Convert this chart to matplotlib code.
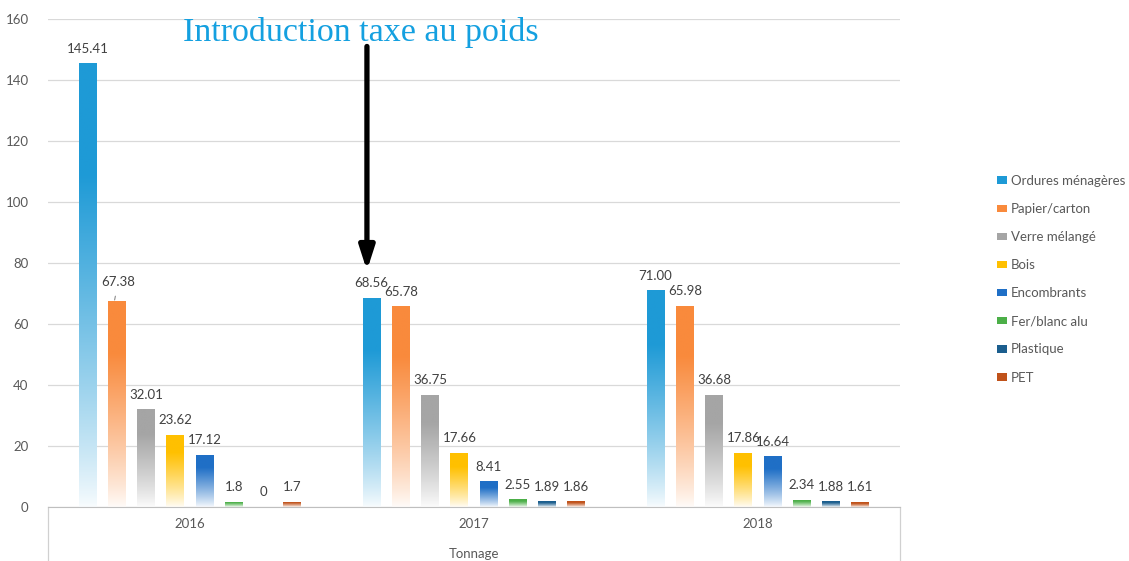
import numpy as np
import matplotlib.pyplot as plt
from matplotlib.patches import Patch

plt.rcParams['font.family'] = ['Lato', 'DejaVu Sans']

# DATA
years = ["2016", "2017", "2018"]
series = ["Ordures ménagères", "Papier/carton", "Verre mélangé", "Bois",
          "Encombrants", "Fer/blanc alu", "Plastique", "PET"]
v2016 = [145.41, 67.38, 32.01, 23.62, 17.12, 1.8, 0, 1.7]
v2017 = [68.56, 65.78, 36.75, 17.66, 8.41, 2.55, 1.89, 1.86]
v2018 = [71.00, 65.98, 36.68, 17.86, 16.64, 2.34, 1.88, 1.61]
l2016 = ["145.41", "67.38", "32.01", "23.62", "17.12", "1.8", "0", "1.7"]
l2017 = ["68.56", "65.78", "36.75", "17.66", "8.41", "2.55", "1.89", "1.86"]
l2018 = ["71.00", "65.98", "36.68", "17.86", "16.64", "2.34", "1.88", "1.61"]

colors = ["#1e9ad6", "#f98a3c", "#a5a5a5", "#ffc000",
          "#1f6fc6", "#4caf48", "#1b5e8e", "#c0521a"]

values = np.array([v2016, v2017, v2018])
labels = [l2016, l2017, l2018]

fig = plt.figure(figsize=(11.29, 5.61), dpi=100)
ax = fig.add_axes([48/1129, 54/561, 852/1129, 488/561])

x = np.arange(len(years))
pitch = 0.103
width = 0.063
txt_col = "#404040"


def gradient_img(c):
    rgb = np.array(plt.matplotlib.colors.to_rgb(c))
    t = np.linspace(0, 1, 200)[:, None]
    f = np.clip(t / 0.75, 0, 1) ** 0.85
    f = 0.03 + 0.97 * f
    img = 1 - f * (1 - rgb[None, :])
    return img[:, None, :]


for j, name in enumerate(series):
    xs = x + (j - 3.5) * pitch
    bars = ax.bar(xs, values[:, j], width, color="none", edgecolor="none", zorder=2)
    for b in bars:
        h = b.get_height()
        if h <= 0:
            continue
        x0 = b.get_x()
        im = ax.imshow(gradient_img(colors[j]), origin="lower", aspect="auto",
                       extent=[x0, x0 + b.get_width(), 0, h], zorder=2,
                       interpolation="bilinear")
        im.set_clip_path(b)
    for i, b in enumerate(bars):
        xc = b.get_x() + b.get_width() / 2
        h = b.get_height()
        if i == 0 and j == 1:
            # label pulled up with a leader line
            ax.annotate(labels[i][j], xy=(xc - 0.008, h + 0.5), xytext=(xc + 0.005, h + 6.4),
                        ha="center", va="center", fontsize=9.5, color=txt_col,
                        arrowprops=dict(arrowstyle="-", color="#8c8c8c", lw=0.8,
                                        shrinkA=4, shrinkB=0))
        else:
            ax.text(xc, h + 4.8, labels[i][j], ha="center", va="center",
                    fontsize=9.5, color=txt_col)

ax.set_xlim(-0.5, 2.5)
ax.set_ylim(0, 160)
ax.set_yticks(np.arange(0, 161, 20))
ax.set_xticks([])
ax.tick_params(axis="y", length=0, labelsize=9.5, labelcolor="#595959", pad=14)
ax.grid(axis="y", color="#d9d9d9", lw=0.9, zorder=0)
ax.set_axisbelow(True)
for s in ["top", "right", "left"]:
    ax.spines[s].set_visible(False)
ax.spines["bottom"].set_color("#bfbfbf")

# category box below the axis
for xa in [0, 1]:
    ax.plot([xa, xa], [0, -0.12], transform=ax.transAxes, color="#d0d0d0",
            lw=0.9, clip_on=False)
for i, yr in enumerate(years):
    ax.text(x[i], -0.035, yr, transform=ax.get_xaxis_transform(), ha="center",
            va="center", fontsize=9.5, color="#595959")
ax.text(0.5, -0.097, "Tonnage", transform=ax.transAxes, ha="center", va="center",
        fontsize=9.5, color="#595959")

# annotation
ax.text(0.602, 155.5, "Introduction taxe au poids", ha="center", va="center",
        fontsize=24.5, color="#14a0e0", family="Liberation Serif", clip_on=False)
ax.annotate("", xy=(0.623, 77.5), xytext=(0.623, 151),
            arrowprops=dict(arrowstyle="-|>,head_width=0.45,head_length=1.4",
                            color="black", lw=3.8, shrinkA=0, shrinkB=0))

handles = [Patch(facecolor=c, edgecolor="none", label=n) for c, n in zip(colors, series)]
fig.legend(handles=handles, loc="upper left", bbox_to_anchor=(0.877, 0.7),
           frameon=False, fontsize=9.5, labelcolor="#595959", labelspacing=1.22,
           handlelength=0.8, handleheight=0.5, handletextpad=0.3, borderpad=0)

fig.savefig("out.png", dpi=100)
